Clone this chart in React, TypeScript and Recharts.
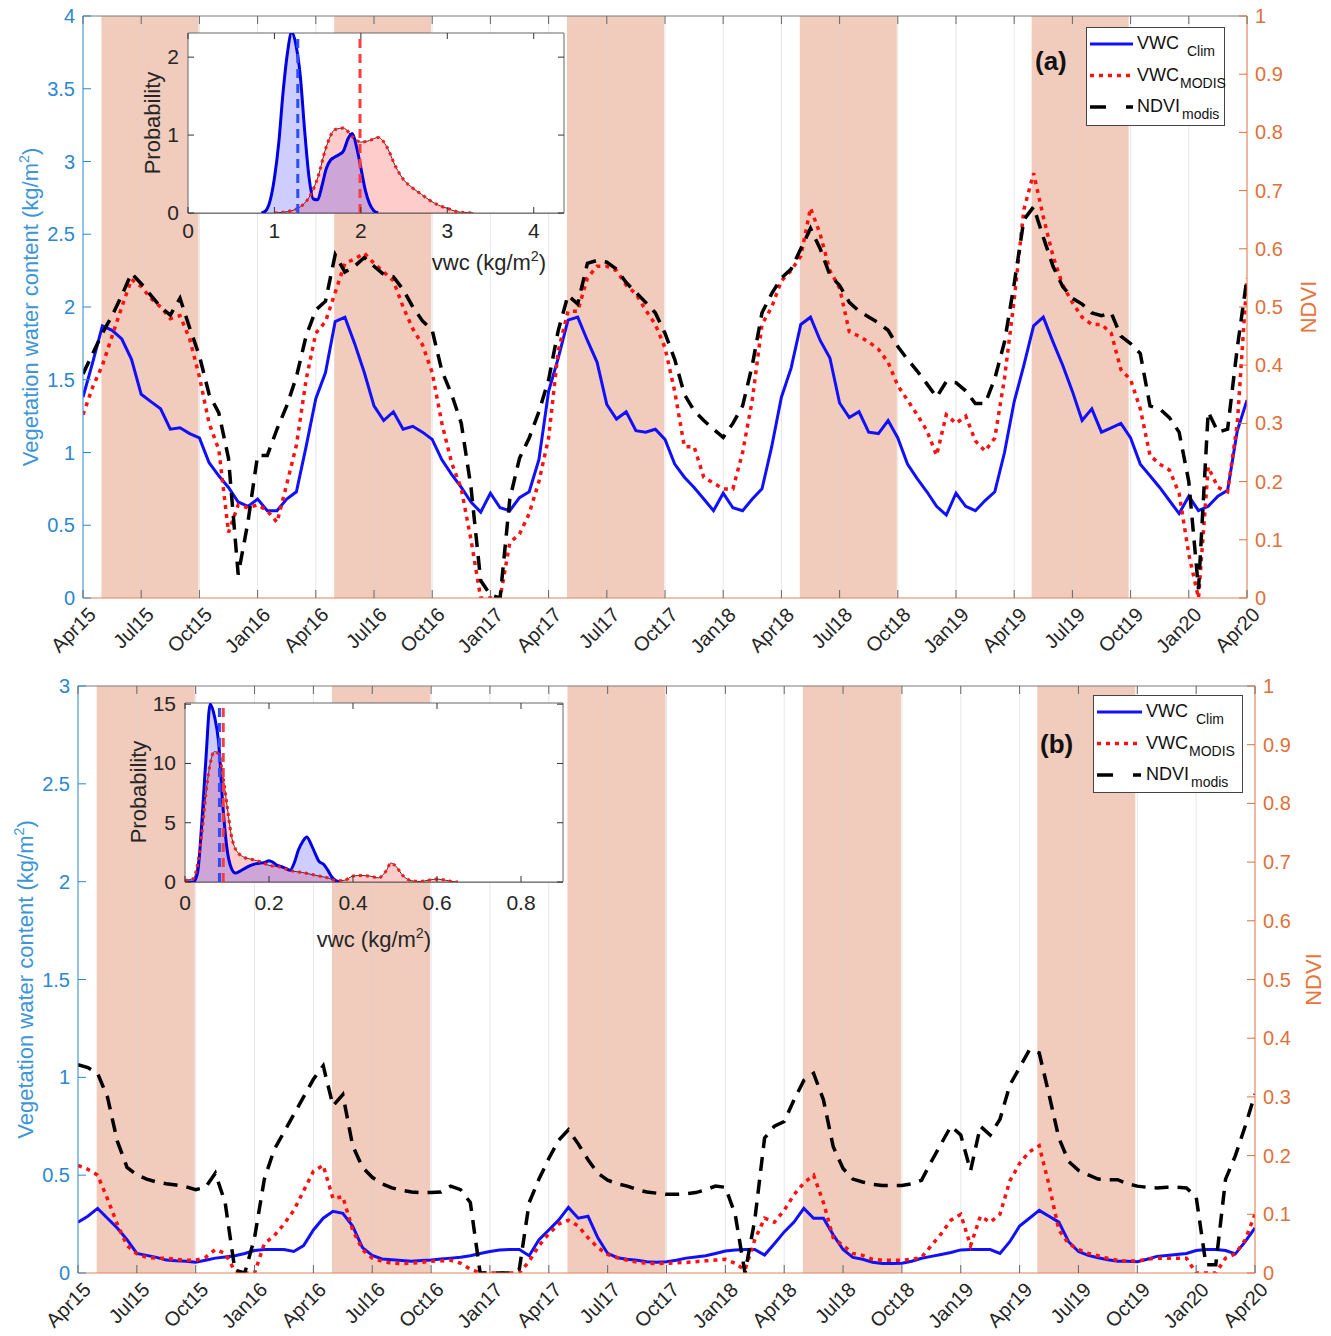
import React from "react";
import {
  Area,
  ComposedChart,
  Legend,
  Line,
  ReferenceArea,
  ReferenceLine,
  XAxis,
  YAxis,
} from "recharts";

const FONT = '"Liberation Sans", Arial, Helvetica, sans-serif';
const VWC_BLUE = "#2b87d1";
const NDVI_ORANGE = "#e0703a";
const SEASON_FILL = "#f1cbbb";

// half-monthly samples, months since Apr 2015
const months = Array.from({ length: 121 }, (_, i) => i / 2);

const tickMonths = [0, 3, 6, 9, 12, 15, 18, 21, 24, 27, 30, 33, 36, 39, 42, 45, 48, 51, 54, 57, 60];
const tickLabels = [
  "Apr15", "Jul15", "Oct15", "Jan16", "Apr16", "Jul16", "Oct16", "Jan17", "Apr17", "Jul17", "Oct17",
  "Jan18", "Apr18", "Jul18", "Oct18", "Jan19", "Apr19", "Jul19", "Oct19", "Jan20", "Apr20",
];
const seasonStart = [0.95, 12.95, 24.95, 36.95, 48.9];
const seasonEnd = [5.95, 17.95, 29.95, 41.95, 53.9];

const ndviTicks = [0, 0.1, 0.2, 0.3, 0.4, 0.5, 0.6, 0.7, 0.8, 0.9, 1];
const vwcTicksA = [0, 0.5, 1, 1.5, 2, 2.5, 3, 3.5, 4];
const vwcTicksB = [0, 0.5, 1, 1.5, 2, 2.5, 3];

// ---- panel (a) ----
const climA = [
  1.38, 1.62, 1.87, 1.84, 1.78, 1.64, 1.40, 1.35, 1.30, 1.16, 1.17, 1.13,
  1.10, 0.93, 0.84, 0.76, 0.66, 0.63, 0.68, 0.60, 0.60, 0.68, 0.73, 1.04,
  1.37, 1.55, 1.90, 1.93, 1.75, 1.55, 1.32, 1.22, 1.28, 1.16, 1.18, 1.14,
  1.09, 0.95, 0.85, 0.76, 0.66, 0.59, 0.72, 0.62, 0.60, 0.69, 0.73, 0.95,
  1.42, 1.65, 1.91, 1.93, 1.77, 1.62, 1.33, 1.23, 1.28, 1.15, 1.14, 1.16,
  1.09, 0.92, 0.83, 0.76, 0.68, 0.60, 0.72, 0.62, 0.60, 0.68, 0.75, 1.04,
  1.38, 1.58, 1.88, 1.93, 1.77, 1.65, 1.34, 1.24, 1.28, 1.14, 1.13, 1.22,
  1.10, 0.92, 0.82, 0.73, 0.63, 0.57, 0.72, 0.63, 0.60, 0.67, 0.73, 1.00,
  1.35, 1.60, 1.87, 1.93, 1.76, 1.60, 1.42, 1.22, 1.30, 1.14, 1.17, 1.20,
  1.10, 0.92, 0.84, 0.76, 0.67, 0.58, 0.70, 0.60, 0.63, 0.70, 0.74, 1.15,
  1.36,
];
const modisA = [
  1.26, 1.45, 1.60, 1.80, 2.00, 2.19, 2.14, 2.06, 2.00, 1.92, 1.94, 1.78,
  1.52, 1.20, 1.02, 0.45, 0.64, 0.62, 0.64, 0.60, 0.52, 0.78, 1.05, 1.50,
  1.82, 1.90, 2.10, 2.30, 2.33, 2.37, 2.30, 2.24, 2.18, 2.00, 1.85, 1.74,
  1.55, 1.20, 0.93, 0.75, 0.40, 0.00, 0.00, 0.00, 0.38, 0.44, 0.58, 0.80,
  1.10, 1.70, 1.97, 1.97, 2.20, 2.28, 2.28, 2.25, 2.15, 2.09, 1.98, 1.88,
  1.72, 1.42, 1.04, 1.04, 0.83, 0.79, 0.75, 0.75, 1.00, 1.36, 1.88, 2.00,
  2.18, 2.25, 2.35, 2.68, 2.50, 2.25, 2.13, 1.83, 1.80, 1.76, 1.71, 1.62,
  1.46, 1.36, 1.26, 1.15, 0.98, 1.26, 1.20, 1.25, 1.08, 1.01, 1.10, 1.51,
  2.05, 2.67, 2.92, 2.62, 2.35, 2.15, 2.03, 1.93, 1.88, 1.88, 1.82, 1.57,
  1.50, 1.30, 0.98, 0.92, 0.88, 0.72, 0.30, 0.00, 0.90, 0.76, 0.73, 1.20,
  2.20,
];
const ndviA = [
  0.385, 0.42, 0.455, 0.485, 0.52, 0.558, 0.54, 0.52, 0.5, 0.486, 0.515, 0.464,
  0.416, 0.35, 0.318, 0.24, 0.04, 0.13, 0.245, 0.245, 0.29, 0.33, 0.38, 0.45,
  0.495, 0.51, 0.59, 0.56, 0.57, 0.585, 0.57, 0.556, 0.552, 0.53, 0.5, 0.476,
  0.46, 0.39, 0.35, 0.3, 0.19, 0.03, 0.005, 0.0, 0.17, 0.24, 0.275, 0.32,
  0.375, 0.46, 0.52, 0.505, 0.575, 0.58, 0.577, 0.565, 0.542, 0.525, 0.508, 0.49,
  0.455, 0.41, 0.35, 0.322, 0.305, 0.29, 0.276, 0.3, 0.33, 0.4, 0.49, 0.523,
  0.55, 0.565, 0.6, 0.635, 0.6, 0.555, 0.537, 0.508, 0.493, 0.483, 0.473, 0.46,
  0.432, 0.41, 0.39, 0.368, 0.345, 0.372, 0.37, 0.356, 0.334, 0.334, 0.377, 0.44,
  0.54, 0.65, 0.672, 0.62, 0.57, 0.535, 0.515, 0.505, 0.49, 0.485, 0.49, 0.45,
  0.437, 0.42, 0.33, 0.325, 0.31, 0.285, 0.2, 0.015, 0.32, 0.285, 0.29, 0.43,
  0.55,
];

// ---- panel (b) ----
const climB = [
  0.26, 0.29, 0.33, 0.28, 0.23, 0.17, 0.10, 0.09, 0.08, 0.066, 0.062, 0.06,
  0.055, 0.065, 0.076, 0.082, 0.088, 0.10, 0.115, 0.12, 0.12, 0.12, 0.11, 0.14,
  0.22, 0.28, 0.315, 0.305, 0.24, 0.13, 0.09, 0.072, 0.068, 0.064, 0.06, 0.064,
  0.066, 0.072, 0.076, 0.08, 0.088, 0.10, 0.11, 0.118, 0.12, 0.12, 0.088, 0.17,
  0.22, 0.27, 0.335, 0.28, 0.29, 0.18, 0.10, 0.078, 0.07, 0.065, 0.058, 0.055,
  0.058, 0.065, 0.076, 0.082, 0.088, 0.10, 0.112, 0.118, 0.12, 0.12, 0.092, 0.15,
  0.21, 0.26, 0.33, 0.28, 0.28, 0.195, 0.12, 0.08, 0.07, 0.055, 0.048, 0.048,
  0.05, 0.06, 0.075, 0.085, 0.095, 0.105, 0.118, 0.12, 0.12, 0.12, 0.10, 0.16,
  0.24, 0.28, 0.32, 0.29, 0.26, 0.16, 0.11, 0.09, 0.078, 0.068, 0.06, 0.06,
  0.058, 0.07, 0.085, 0.09, 0.095, 0.10, 0.115, 0.12, 0.12, 0.115, 0.098, 0.16,
  0.23,
];
const modisB = [
  0.55, 0.53, 0.50, 0.38, 0.25, 0.14, 0.098, 0.08, 0.076, 0.076, 0.07, 0.065,
  0.065, 0.08, 0.12, 0.10, 0.01, 0, 0, 0.15, 0.19, 0.25, 0.32, 0.42,
  0.52, 0.55, 0.38, 0.39, 0.22, 0.12, 0.076, 0.06, 0.05, 0.048, 0.05, 0.055,
  0.06, 0.062, 0.065, 0.05, 0.02, 0, 0, 0, 0, 0, 0.06, 0.14,
  0.20, 0.25, 0.27, 0.24, 0.18, 0.13, 0.095, 0.078, 0.065, 0.055, 0.05, 0.048,
  0.05, 0.052, 0.054, 0.058, 0.062, 0.066, 0.07, 0.05, 0.015, 0.17, 0.28, 0.26,
  0.32, 0.40, 0.46, 0.50, 0.36, 0.18, 0.14, 0.10, 0.09, 0.07, 0.065, 0.065,
  0.065, 0.07, 0.08, 0.14, 0.20, 0.27, 0.30, 0.14, 0.29, 0.26, 0.30, 0.47,
  0.56, 0.62, 0.65, 0.45, 0.22, 0.15, 0.12, 0.10, 0.088, 0.075, 0.065, 0.06,
  0.062, 0.07, 0.076, 0.076, 0.076, 0.076, 0, 0, 0, 0.076, 0.098, 0.17,
  0.30,
];
const ndviB = [
  0.355, 0.35, 0.34, 0.30, 0.225, 0.18, 0.167, 0.16, 0.155, 0.152, 0.15, 0.147,
  0.142, 0.146, 0.17, 0.12, 0.005, 0, 0.06, 0.16, 0.21, 0.24, 0.27, 0.30,
  0.33, 0.353, 0.285, 0.304, 0.217, 0.18, 0.163, 0.152, 0.145, 0.141, 0.138, 0.137,
  0.137, 0.138, 0.148, 0.142, 0.12, 0, 0, 0, 0, 0.007, 0.12, 0.16,
  0.195, 0.226, 0.244, 0.22, 0.193, 0.17, 0.158, 0.152, 0.148, 0.142, 0.138, 0.136,
  0.134, 0.134, 0.135, 0.137, 0.142, 0.148, 0.146, 0.10, 0, 0.09, 0.23, 0.25,
  0.258, 0.295, 0.328, 0.34, 0.295, 0.215, 0.178, 0.16, 0.155, 0.151, 0.149, 0.149,
  0.149, 0.152, 0.158, 0.19, 0.22, 0.25, 0.235, 0.174, 0.25, 0.235, 0.262, 0.32,
  0.35, 0.38, 0.375, 0.304, 0.23, 0.19, 0.175, 0.167, 0.16, 0.159, 0.159, 0.152,
  0.148, 0.146, 0.145, 0.146, 0.146, 0.145, 0.13, 0.014, 0.014, 0.16, 0.20, 0.25,
  0.305,
];

// ---- inset densities ----
const pdfAClimX = [0.85, 0.9, 0.95, 1.0, 1.05, 1.1, 1.15, 1.2, 1.25, 1.3, 1.35, 1.4, 1.45, 1.5, 1.55, 1.6, 1.65, 1.7, 1.75, 1.8, 1.85, 1.9, 1.95, 2.0, 2.05, 2.1, 2.15, 2.2];
const pdfAClimY = [0, 0.03, 0.16, 0.45, 0.9, 1.55, 2.05, 2.32, 2.15, 1.75, 1.05, 0.46, 0.18, 0.17, 0.35, 0.57, 0.68, 0.72, 0.75, 0.8, 0.95, 1.02, 0.85, 0.58, 0.3, 0.12, 0.03, 0];
const pdfAModisX = [1.0, 1.1, 1.2, 1.3, 1.4, 1.5, 1.6, 1.7, 1.8, 1.9, 2.0, 2.1, 2.2, 2.3, 2.4, 2.5, 2.6, 2.7, 2.8, 2.9, 3.0, 3.1, 3.2, 3.3];
const pdfAModisY = [0, 0.01, 0.03, 0.08, 0.2, 0.45, 0.85, 1.07, 1.09, 0.98, 0.91, 0.93, 0.97, 0.85, 0.6, 0.42, 0.32, 0.24, 0.16, 0.1, 0.06, 0.02, 0.005, 0];
const meanA = { clim: 1.27, modis: 1.99 };

const pdfBClimX = [0, 0.01, 0.02, 0.03, 0.04, 0.05, 0.06, 0.07, 0.08, 0.09, 0.1, 0.11, 0.12, 0.13, 0.14, 0.15, 0.16, 0.17, 0.18, 0.19, 0.2, 0.21, 0.22, 0.23, 0.24, 0.25, 0.26, 0.27, 0.28, 0.29, 0.3, 0.31, 0.32, 0.33, 0.34, 0.35, 0.36, 0.37];
const pdfBClimY = [0, 0, 0, 0.8, 5.0, 10.5, 15.0, 14.0, 11.8, 6.5, 2.8, 1.2, 0.75, 0.9, 1.1, 1.3, 1.45, 1.55, 1.6, 1.65, 1.8, 1.65, 1.4, 1.3, 1.15, 1.0, 1.6, 2.7, 3.4, 3.8, 3.2, 2.4, 1.7, 1.5, 1.0, 0.4, 0.1, 0];
const pdfBModisX = [0, 0.01, 0.02, 0.03, 0.04, 0.05, 0.06, 0.07, 0.08, 0.09, 0.1, 0.11, 0.12, 0.14, 0.16, 0.18, 0.2, 0.22, 0.24, 0.26, 0.28, 0.3, 0.32, 0.34, 0.36, 0.38, 0.4, 0.42, 0.44, 0.46, 0.48, 0.49, 0.5, 0.52, 0.54, 0.56, 0.58, 0.6, 0.62, 0.64, 0.65];
const pdfBModisY = [0.1, 0.2, 0.3, 1.5, 4.0, 7.5, 10.0, 11.0, 10.8, 9.0, 6.5, 4.0, 2.8, 2.1, 1.9, 1.7, 1.4, 1.3, 1.1, 0.9, 0.8, 0.65, 0.5, 0.35, 0.1, 0.15, 0.5, 0.55, 0.5, 0.35, 1.0, 1.6, 1.4, 0.5, 0.1, 0.05, 0.15, 0.25, 0.15, 0.02, 0];
const meanB = { clim: 0.082, modis: 0.091 };

const toPts = (xs: number[], ys: number[]) => xs.map((x, i) => ({ x, p: ys[i] }));

function AxisTitle(props: any) {
  const { px, py, tint, fs, rot, main, sup, tail } = props;
  return (
    <text
      x={px}
      y={py}
      transform={rot ? `rotate(-90 ${px} ${py})` : undefined}
      textAnchor="middle"
      fill={tint}
      fontSize={fs}
      fontFamily={FONT}
    >
      {main}
      {sup ? (
        <tspan dy={-fs * 0.4} fontSize={fs * 0.65}>
          {sup}
        </tspan>
      ) : null}
      {tail ? <tspan dy={fs * 0.4}>{tail}</tspan> : null}
    </text>
  );
}

const legendRows = [
  { name: "VWC", sub: "Clim", color: "#1010ff", dash: undefined as string | undefined, width: 3, subDx: 8 },
  { name: "VWC", sub: "MODIS", color: "#ff1010", dash: "4 5", width: 3.5, subDx: 1 },
  { name: "NDVI", sub: "modis", color: "#000000", dash: "16 20 8 100", width: 3.5, subDx: 2 },
];

function LegendBox({ w, h, sampleW }: { w: number; h: number; sampleW: number }) {
  return (
    <svg width={w} height={h} style={{ display: "block", fontFamily: FONT, overflow: "visible" }}>
      <rect x={0.5} y={0.5} width={w - 1} height={h - 1} fill="#fff" stroke="#444" />
      {legendRows.map((r, i) => {
        const y = 17 + i * 31.5;
        return (
          <g key={i}>
            <line x1={4} x2={4 + sampleW} y1={y} y2={y} stroke={r.color} strokeWidth={r.width} strokeDasharray={r.dash} />
            <text x={8 + sampleW} y={y + 5} fontSize={18} fill="#111">
              {r.name}
              <tspan dx={r.subDx} dy={7} fontSize={14}>
                {r.sub}
              </tspan>
            </text>
          </g>
        );
      })}
    </svg>
  );
}

type PanelProps = {
  top: number;
  height: number;
  plotTop: number;
  plotBottom: number;
  leftW: number;
  rightW: number;
  vwcMax: number;
  vwcTicks: number[];
  clim: number[];
  modis: number[];
  ndvi: number[];
  legend: { left: number; top: number; w: number; h: number; sampleW: number };
  tag: string;
  tagX: number;
  tagY: number;
  leftTitleX: number;
  rightTitleX: number;
};

function Panel(p: PanelProps) {
  const rows = months.map((t, i) => ({ t, clim: p.clim[i], modis: p.modis[i], ndvi: p.ndvi[i] }));
  const plotLeft = p.leftW;
  const plotRight = 1331 - p.rightW;
  const midY = (p.plotTop + p.plotBottom) / 2;

  const timeTick = (props: any) => {
    const { x, payload } = props;
    const label = tickLabels[tickMonths.indexOf(payload.value)];
    const tx = x + 14;
    const ty = p.plotBottom + 18;
    return (
      <g>
        <line x1={x} x2={x} y1={p.plotBottom} y2={p.plotBottom - 8} stroke="#666" />
        <line x1={x} x2={x} y1={p.plotTop} y2={p.plotTop + 8} stroke="#666" />
        <text x={tx} y={ty} textAnchor="end" transform={`rotate(-45 ${tx} ${ty})`} fontSize={20} fill="#262626" fontFamily={FONT}>
          {label}
        </text>
      </g>
    );
  };
  const leftTick = (props: any) => {
    const { y, payload } = props;
    return (
      <g>
        <line x1={plotLeft} x2={plotLeft + 8} y1={y} y2={y} stroke={VWC_BLUE} />
        <text x={plotLeft - 8} y={y + 7} textAnchor="end" fontSize={20} fill={VWC_BLUE} fontFamily={FONT}>
          {payload.value}
        </text>
      </g>
    );
  };
  const rightTick = (props: any) => {
    const { y, payload } = props;
    return (
      <g>
        <line x1={plotRight} x2={plotRight - 8} y1={y} y2={y} stroke={NDVI_ORANGE} />
        <text x={plotRight + 8} y={y + 7} textAnchor="start" fontSize={20} fill={NDVI_ORANGE} fontFamily={FONT}>
          {payload.value}
        </text>
      </g>
    );
  };

  return (
    <div style={{ position: "absolute", left: 0, top: p.top, width: 1331, height: p.height }}>
      <ComposedChart
        width={1331}
        height={p.height}
        data={rows}
        margin={{ top: p.plotTop, right: 0, bottom: p.height - p.plotBottom - 60, left: 0 }}
      >
        <XAxis
          dataKey="t"
          type="number"
          domain={[0, 60]}
          ticks={tickMonths}
          interval={0}
          height={60}
          tick={timeTick}
          tickLine={false}
          axisLine={{ stroke: "#e3825a" }}
          allowDataOverflow
        />
        <YAxis
          yAxisId="vwc"
          width={p.leftW}
          domain={[0, p.vwcMax]}
          ticks={p.vwcTicks}
          interval={0}
          tick={leftTick}
          tickLine={false}
          axisLine={{ stroke: VWC_BLUE }}
          allowDataOverflow
          label={
            <AxisTitle px={p.leftTitleX} py={midY} tint="#3d95d8" fs={22} rot main="Vegetation water content (kg/m" sup="2" tail=")" />
          }
        />
        <YAxis
          yAxisId="ndvi"
          orientation="right"
          width={p.rightW}
          domain={[0, 1]}
          ticks={ndviTicks}
          interval={0}
          tick={rightTick}
          tickLine={false}
          axisLine={{ stroke: NDVI_ORANGE }}
          allowDataOverflow
          label={<AxisTitle px={p.rightTitleX} py={midY} tint="#e8743b" fs={22} rot main="NDVI" />}
        />
        {seasonStart.map((s, i) => (
          <ReferenceArea
            key={`s${i}`}
            yAxisId="vwc"
            x1={s}
            x2={seasonEnd[i]}
            y1={0}
            y2={p.vwcMax}
            fill={SEASON_FILL}
            fillOpacity={1}
            stroke="none"
          />
        ))}
        {tickMonths.slice(1, -1).map((m) => (
          <ReferenceLine key={`g${m}`} yAxisId="vwc" x={m} stroke="#d6d6d6" strokeOpacity={0.6} />
        ))}
        <ReferenceLine yAxisId="vwc" y={p.vwcMax} stroke="#7a7a7a" />
        <Line yAxisId="vwc" dataKey="clim" stroke="#1010ff" strokeWidth={3} dot={false} isAnimationActive={false} type="linear" />
        <Line
          yAxisId="vwc"
          dataKey="modis"
          stroke="#ff1010"
          strokeWidth={3.5}
          strokeDasharray="4 5"
          dot={false}
          isAnimationActive={false}
          type="linear"
        />
        <Line
          yAxisId="ndvi"
          dataKey="ndvi"
          stroke="#000"
          strokeWidth={3.5}
          strokeDasharray="14 9"
          dot={false}
          isAnimationActive={false}
          type="linear"
        />
        <Legend
          layout="vertical"
          align="center"
          verticalAlign="middle"
          wrapperStyle={{ position: "absolute", left: p.legend.left, top: p.legend.top, width: p.legend.w, height: p.legend.h }}
          content={() => <LegendBox w={p.legend.w} h={p.legend.h} sampleW={p.legend.sampleW} />}
        />
      </ComposedChart>
      <div
        style={{
          position: "absolute",
          left: p.tagX,
          top: p.tagY,
          fontFamily: FONT,
          fontWeight: 700,
          fontSize: 26,
          lineHeight: "30px",
          color: "#111",
        }}
      >
        {p.tag}
      </div>
    </div>
  );
}

type InsetProps = {
  left: number;
  top: number;
  width: number;
  height: number;
  yW: number;
  mTop: number;
  mRight: number;
  mBottom: number;
  xMax: number;
  xTicks: number[];
  yMax: number;
  yTicks: number[];
  clim: { x: number; p: number }[];
  modis: { x: number; p: number }[];
  climMean: number;
  modisMean: number;
  probX: number;
  probY: number;
  vwcX: number;
  vwcY: number;
  xLabelDy: number;
};

function Inset(s: InsetProps) {
  const pl = s.yW;
  const pt = s.mTop;
  const pr = s.width - s.mRight;
  const pb = s.height - s.mBottom - 50;

  const xTick = (props: any) => {
    const { x, payload } = props;
    return (
      <g>
        <line x1={x} x2={x} y1={pb} y2={pb - 6} stroke="#333" />
        <line x1={x} x2={x} y1={pt} y2={pt + 6} stroke="#333" />
        <text x={x} y={pb + s.xLabelDy} textAnchor="middle" fontSize={21} fill="#262626" fontFamily={FONT}>
          {payload.value}
        </text>
      </g>
    );
  };
  const yTick = (props: any) => {
    const { y, payload } = props;
    return (
      <g>
        <line x1={pl} x2={pl + 6} y1={y} y2={y} stroke="#333" />
        <line x1={pr} x2={pr - 6} y1={y} y2={y} stroke="#333" />
        <text x={pl - 9} y={y + 7} textAnchor="end" fontSize={21} fill="#262626" fontFamily={FONT}>
          {payload.value}
        </text>
      </g>
    );
  };

  return (
    <div style={{ position: "absolute", left: s.left, top: s.top, width: s.width, height: s.height }}>
      <ComposedChart width={s.width} height={s.height} margin={{ top: s.mTop, right: s.mRight, bottom: s.mBottom, left: 0 }}>
        <XAxis
          dataKey="x"
          type="number"
          domain={[0, s.xMax]}
          ticks={s.xTicks}
          interval={0}
          height={50}
          tick={xTick}
          tickLine={false}
          axisLine={false}
          allowDataOverflow
          label={<AxisTitle px={s.vwcX} py={s.vwcY} tint="#262626" fs={22} main="vwc (kg/m" sup="2" tail=")" />}
        />
        <YAxis
          type="number"
          width={s.yW}
          domain={[0, s.yMax]}
          ticks={s.yTicks}
          interval={0}
          tick={yTick}
          tickLine={false}
          axisLine={false}
          allowDataOverflow
          label={<AxisTitle px={s.probX} py={s.probY} tint="#262626" fs={22} rot main="Probability" />}
        />
        <ReferenceArea x1={0} x2={s.xMax} y1={0} y2={s.yMax} fill="#fff" fillOpacity={1} stroke="#666" strokeWidth={1} />
        <Area
          data={s.modis}
          dataKey="p"
          type="monotone"
          stroke="#333"
          strokeWidth={1}
          fill="#ff0000"
          fillOpacity={0.2}
          isAnimationActive={false}
        />
        <Line
          data={s.modis}
          dataKey="p"
          type="monotone"
          stroke="#ff1a1a"
          strokeWidth={3}
          strokeDasharray="3 4"
          dot={false}
          isAnimationActive={false}
        />
        <Area
          data={s.clim}
          dataKey="p"
          type="monotone"
          stroke="#0000e6"
          strokeWidth={3}
          fill="#1a1aff"
          fillOpacity={0.22}
          isAnimationActive={false}
        />
        <ReferenceLine x={s.climMean} stroke="#2a4dff" strokeWidth={3} strokeDasharray="9 6" />
        <ReferenceLine x={s.modisMean} stroke="#ff3b3b" strokeWidth={3} strokeDasharray="9 6" />
        <line x1={pl} x2={pr} y1={pb} y2={pb} stroke="#333" />
      </ComposedChart>
    </div>
  );
}

export default function App() {
  return (
    <div
      style={{
        position: "absolute",
        left: 0,
        top: 0,
        width: 1331,
        height: 1336,
        background: "#fff",
        fontFamily: FONT,
        overflow: "hidden",
      }}
    >
      <Panel
        top={0}
        height={670}
        plotTop={16}
        plotBottom={598}
        leftW={83}
        rightW={84}
        vwcMax={4}
        vwcTicks={vwcTicksA}
        clim={climA}
        modis={modisA}
        ndvi={ndviA}
        legend={{ left: 1086, top: 27, w: 139, h: 99, sampleW: 43 }}
        tag="(a)"
        tagX={1035}
        tagY={46}
        leftTitleX={38}
        rightTitleX={1316}
      />
      <Panel
        top={670}
        height={666}
        plotTop={16}
        plotBottom={603}
        leftW={78}
        rightW={76}
        vwcMax={3}
        vwcTicks={vwcTicksB}
        clim={climB}
        modis={modisB}
        ndvi={ndviB}
        legend={{ left: 1093, top: 25, w: 150, h: 98, sampleW: 45 }}
        tag="(b)"
        tagX={1040}
        tagY={59}
        leftTitleX={33}
        rightTitleX={1321}
      />
      <Inset
        left={120}
        top={20}
        width={470}
        height={260}
        yW={68}
        mTop={13}
        mRight={26}
        mBottom={17}
        xMax={4.35}
        xTicks={[0, 1, 2, 3, 4]}
        yMax={2.31}
        yTicks={[0, 1, 2]}
        clim={toPts(pdfAClimX, pdfAClimY)}
        modis={toPts(pdfAModisX, pdfAModisY)}
        climMean={meanA.clim}
        modisMean={meanA.modis}
        probX={40}
        probY={103}
        vwcX={369}
        vwcY={250}
        xLabelDy={25}
      />
      <Inset
        left={110}
        top={690}
        width={470}
        height={270}
        yW={75}
        mTop={13}
        mRight={17}
        mBottom={28}
        xMax={0.9}
        xTicks={[0, 0.2, 0.4, 0.6, 0.8]}
        yMax={15.1}
        yTicks={[0, 5, 10, 15]}
        clim={toPts(pdfBClimX, pdfBClimY)}
        modis={toPts(pdfBModisX, pdfBModisY)}
        climMean={meanB.clim}
        modisMean={meanB.modis}
        probX={36}
        probY={102}
        vwcX={264}
        vwcY={257}
        xLabelDy={28}
      />
    </div>
  );
}
